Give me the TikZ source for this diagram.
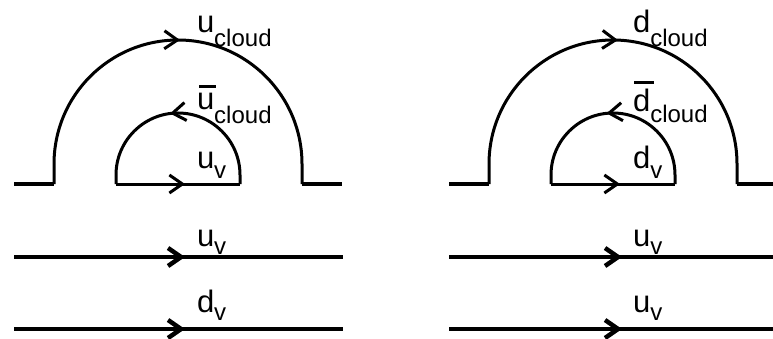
\documentclass[tikz,border=0pt]{standalone}
\usepackage{fontspec}
\setmainfont{Liberation Sans}
\usetikzlibrary{arrows.meta,decorations.markings}
\newcommand\qlab[3]{{\fontsize{31}{31}\selectfont #1}\raisebox{-#3}{\fontsize{24}{24}\selectfont #2}}
\newcommand\ubar{\rlap{\hspace{2pt}\rule[21pt]{17pt}{3pt}}u}
\newcommand\dbar{\rlap{\hspace{1pt}\rule[28pt]{20pt}{3pt}}d}
\tikzset{
  tipx/.tip={Straight Barb[length=13pt,width=18pt]},
  quark/.style={line width=3pt},
  heavy/.style={line width=4.5pt},
  fwd/.style={postaction={decorate},decoration={markings,mark=at position #1 with {\arrow{tipx}}}},
  bwd/.style={postaction={decorate},decoration={markings,mark=at position #1 with {\arrowreversed{tipx}}}},
  lbl/.style={anchor=base west,inner sep=0pt,outer sep=0pt}
}
\begin{document}
\begin{tikzpicture}[x=1pt,y=1pt]
\useasboundingbox (0,0) rectangle (773,338);
% ---------- left diagram ----------
\coordinate (LsA) at (14,154);
\coordinate (LoA) at (54,154);
\coordinate (LoB) at (302,154);
\coordinate (LsB) at (342,154);
\coordinate (LiA) at (116,154);
\coordinate (LiB) at (240,154);
\draw[heavy] (LsA) -- (LoA);
\draw[heavy] (LoB) -- (LsB);
\draw[quark,fwd=216.8pt] (LoA) -- ++(0,20) arc[start angle=180,end angle=0,radius=124] -- (LoB);
\draw[quark,fwd=69pt] (LiA) -- (LiB);
\draw[quark,bwd=98.4pt] (LiA) -- ++(0,9) arc[start angle=180,end angle=0,radius=62] -- (LiB);
\coordinate (L1a) at (14,81);
\coordinate (L1b) at (343,81);
\coordinate (L2a) at (14,9);
\coordinate (L2b) at (343,9);
\draw[heavy,fwd=171pt] (L1a) -- (L1b);
\draw[heavy,fwd=171pt] (L2a) -- (L2b);
% ---------- right diagram ----------
\coordinate (RsA) at (449,154);
\coordinate (RoA) at (489,154);
\coordinate (RoB) at (737,154);
\coordinate (RsB) at (777,154);
\coordinate (RiA) at (551,154);
\coordinate (RiB) at (675,154);
\draw[heavy] (RsA) -- (RoA);
\draw[heavy] (RoB) -- (RsB);
\draw[quark,fwd=219.8pt] (RoA) -- ++(0,20) arc[start angle=180,end angle=0,radius=124] -- (RoB);
\draw[quark,fwd=69pt] (RiA) -- (RiB);
\draw[quark,bwd=99.9pt] (RiA) -- ++(0,9) arc[start angle=180,end angle=0,radius=62] -- (RiB);
\coordinate (R1a) at (449,81);
\coordinate (R1b) at (777,81);
\coordinate (R2a) at (449,9);
\coordinate (R2b) at (777,9);
\draw[heavy,fwd=173pt] (R1a) -- (R1b);
\draw[heavy,fwd=173pt] (R2a) -- (R2b);
% ---------- labels ----------
\node[lbl] (t1) at (197,305) {\qlab{u}{cloud}{14pt}};
\node[lbl] (t2) at (197,229) {\qlab{\ubar}{cloud}{14pt}};
\node[lbl] (t3) at (197,170) {\qlab{u}{v}{10pt}};
\node[lbl] (t4) at (197,92) {\qlab{u}{v}{8pt}};
\node[lbl] (t5) at (197,26) {\qlab{d}{v}{8pt}};
\node[lbl] (t6) at (633,305) {\qlab{d}{cloud}{14pt}};
\node[lbl] (t7) at (633,226) {\qlab{\dbar}{cloud}{11pt}};
\node[lbl] (t8) at (633,170) {\qlab{d}{v}{10pt}};
\node[lbl] (t9) at (633,92) {\qlab{u}{v}{8pt}};
\node[lbl] (t10) at (633,26) {\qlab{u}{v}{8pt}};
\end{tikzpicture}
\end{document}
